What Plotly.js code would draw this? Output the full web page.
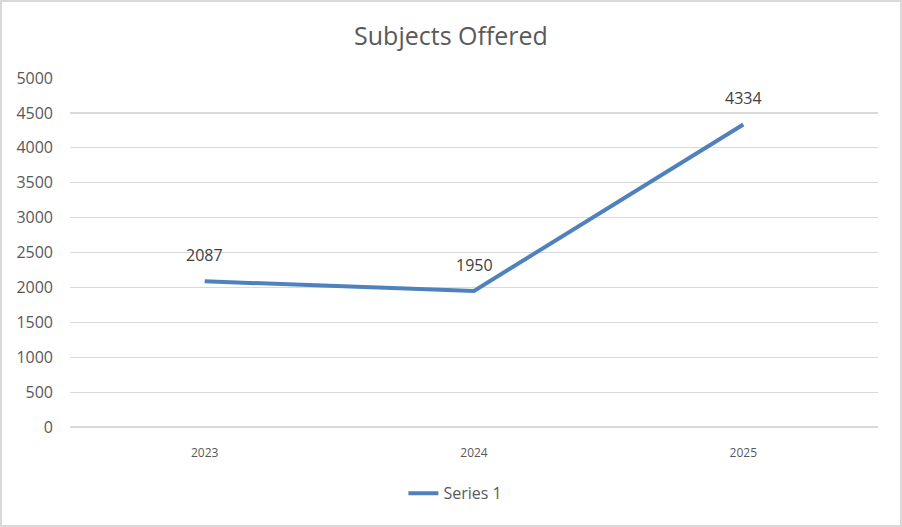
<!DOCTYPE html>
<html>
<head>
<meta charset="utf-8">
<script src="https://cdn.plot.ly/plotly-3.0.1.min.js"></script>
<style>
html,body{margin:0;padding:0;background:#fff;}
#wrap{position:relative;width:902px;height:527px;}
#chart{width:902px;height:527px;}
#frame{position:absolute;left:0;top:0;width:902px;height:527px;box-sizing:border-box;border:2px solid #d9d9d9;pointer-events:none;}
</style>
</head>
<body>
<div id="wrap"><div id="chart"></div><div id="frame"></div></div>
<script>
const categories = ['2023', '2024', '2025'];
const seriesValues = [2087, 1950, 4334];
const seriesName = 'Series 1';
const yTicks = [0, 500, 1000, 1500, 2000, 2500, 3000, 3500, 4000, 4500, 5000];

const FONT = '"Open Sans", "Noto Sans", sans-serif';
const GRAY = '#595959';
const idx = categories.map((c, i) => i);

const trace = {
  x: idx,
  y: seriesValues,
  type: 'scatter',
  mode: 'lines',
  name: seriesName,
  line: {color: '#4f81bd', width: 4},
  hoverinfo: 'y'
};

const annotations = idx.map(i => ({
  x: i, y: seriesValues[i], xref: 'x', yref: 'y',
  text: String(seriesValues[i]), showarrow: false,
  yshift: 26, font: {family: FONT, size: 16, color: '#404040'}
}));

const layout = {
  width: 902, height: 527,
  margin: {l: 70, r: 24, t: 78, b: 100},
  paper_bgcolor: '#ffffff', plot_bgcolor: '#ffffff',
  title: {text: 'Subjects Offered', x: 0.5, xanchor: 'center', y: 0.932, yanchor: 'middle',
          font: {family: FONT, size: 25, color: GRAY}},
  xaxis: {
    type: 'linear', range: [-0.5, categories.length - 0.5],
    tickvals: idx, ticktext: categories,
    showgrid: false, zeroline: false, showline: false,
    ticks: '', tickfont: {family: FONT, size: 12, color: GRAY}, ticklabelstandoff: 17,
    fixedrange: true
  },
  yaxis: {
    range: [0, 5000], tickvals: yTicks, ticktext: yTicks.map(String),
    showgrid: true, gridcolor: '#d9d9d9', gridwidth: 1.2, zeroline: true, zerolinecolor: '#d9d9d9', zerolinewidth: 1.2,
    showline: false,
    ticks: '', tickfont: {family: FONT, size: 16, color: GRAY}, ticklabelstandoff: 16,
    fixedrange: true
  },
  showlegend: true,
  legend: {orientation: 'h', x: 0.477, xanchor: 'center', y: -0.19, yanchor: 'middle',
           font: {family: FONT, size: 16, color: GRAY}},
  annotations: annotations
};

Plotly.newPlot('chart', [trace], layout, {displayModeBar: false, staticPlot: true});
</script>
</body>
</html>
